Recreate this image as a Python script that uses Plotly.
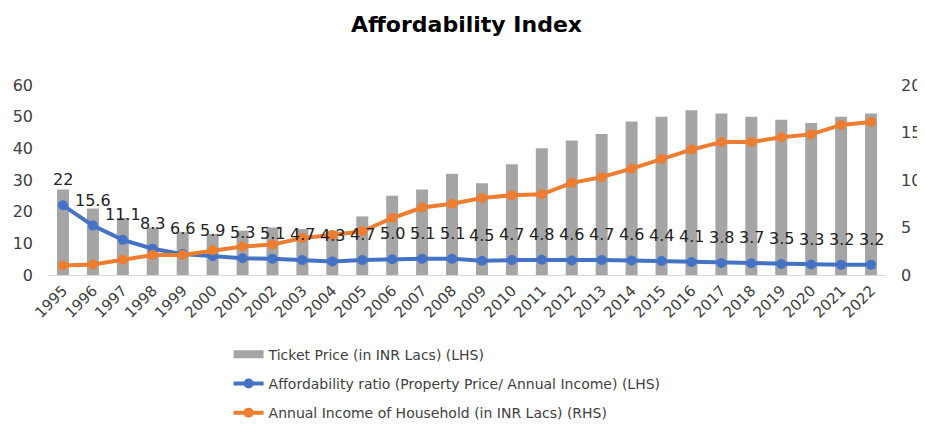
import plotly.graph_objects as go

years = [str(y) for y in range(1995, 2023)]
ticket_price = [27, 21, 18, 15, 13.5, 13, 14, 15, 14.5, 14, 18.5, 25, 27, 32, 29, 35,
                40, 42.5, 44.5, 48.5, 50, 52, 51, 50, 49, 48, 50, 51]
afford_ratio = [22, 15.6, 11.1, 8.3, 6.6, 5.9, 5.3, 5.1, 4.7, 4.3, 4.7, 5.0, 5.1, 5.1,
                4.5, 4.7, 4.8, 4.6, 4.7, 4.6, 4.4, 4.1, 3.8, 3.7, 3.5, 3.3, 3.2, 3.2]
afford_labels = ["22", "15.6", "11.1", "8.3", "6.6", "5.9", "5.3", "5.1", "4.7", "4.3",
                 "4.7", "5.0", "5.1", "5.1", "4.5", "4.7", "4.8", "4.6", "4.7", "4.6",
                 "4.4", "4.1", "3.8", "3.7", "3.5", "3.3", "3.2", "3.2"]
annual_income = [1.0, 1.1, 1.6, 2.1, 2.1, 2.6, 3.0, 3.2, 3.9, 4.2, 4.6, 6.0, 7.1, 7.5,
                 8.1, 8.4, 8.5, 9.7, 10.3, 11.2, 12.2, 13.2, 14.0, 14.0, 14.5, 14.8, 15.8, 16.1]

FONT = "DejaVu Sans"
BAR_NAME = "Ticket Price (in INR Lacs) (LHS)"

fig = go.Figure()
fig.add_trace(go.Bar(
    x=years, y=ticket_price, name=BAR_NAME,
    marker=dict(color="#A5A5A5", line=dict(width=0)), width=0.4,
    legendgroup="a", showlegend=False,
))
# legend key for the bars: a wide grey rectangle, as in the reference
fig.add_trace(go.Scatter(
    x=[None], y=[None], name=BAR_NAME, mode="lines",
    line=dict(color="#A5A5A5", width=8), legendgroup="a", hoverinfo="skip",
))
fig.add_trace(go.Scatter(
    x=years, y=afford_ratio, name="Affordability ratio (Property Price/ Annual Income) (LHS)",
    mode="lines+markers", line=dict(color="#4472C4", width=4),
    marker=dict(color="#4472C4", size=10), legendgroup="b",
))
fig.add_trace(go.Scatter(
    x=years, y=annual_income, name="Annual Income of Household (in INR Lacs) (RHS)",
    mode="lines+markers", yaxis="y2",
    line=dict(color="#ED7D31", width=4), marker=dict(color="#ED7D31", size=10),
    legendgroup="c",
))

# data labels for the affordability ratio, above each point (x = category index)
for i, (yv, lab) in enumerate(zip(afford_ratio, afford_labels)):
    fig.add_annotation(x=i, y=yv, xref="x", yref="y", text=lab, showarrow=False,
                       yanchor="bottom", yshift=14,
                       font=dict(family=FONT, size=16, color="#222222"))

# the page has an 8px body margin, so the figure is drawn at (8, 8)
fig.update_layout(
    width=917, height=419,
    margin=dict(l=40, r=39, t=77, b=152, autoexpand=False),
    paper_bgcolor="white", plot_bgcolor="white",
    title=dict(text="<b>Affordability Index</b>", x=0.5, xanchor="center", y=0.962,
               yanchor="middle", font=dict(family=FONT, size=22, color="#000000")),
    font=dict(family=FONT, color="#404040"),
    xaxis=dict(
        type="category", range=[-0.5, len(years) - 0.5], autorange=False,
        showgrid=False, showline=True, linecolor="#D9D9D9", linewidth=1,
        tickangle=-45, tickfont=dict(family=FONT, size=15, color="#404040"),
        ticks="", automargin=False,
    ),
    yaxis=dict(
        range=[0, 60], dtick=10, showgrid=False, zeroline=False, showline=False,
        tickfont=dict(family=FONT, size=16, color="#404040"), ticklabelstandoff=14,
        automargin=False,
    ),
    yaxis2=dict(
        range=[0, 20], dtick=5, overlaying="y", side="right", showgrid=False,
        zeroline=False, showline=False, automargin=False,
        tickfont=dict(family=FONT, size=16, color="#404040"), ticklabelstandoff=14,
    ),
    legend=dict(
        orientation="v", x=0.2155, xanchor="left", y=-0.335, yanchor="top",
        font=dict(family=FONT, size=14, color="#404040"),
        tracegroupgap=8, bgcolor="rgba(0,0,0,0)",
    ),
    bargap=0.6,
)

fig.write_html("out.html")
